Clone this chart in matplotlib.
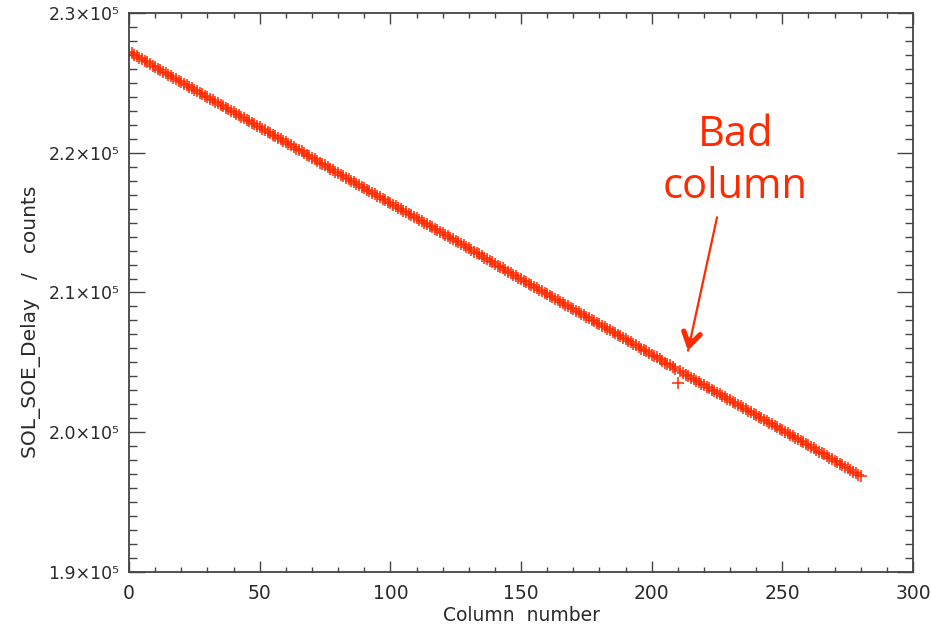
import numpy as np
from matplotlib import pyplot as plt
from matplotlib.ticker import MultipleLocator, FuncFormatter

# SOL_SOE_Delay counts per column (column index = position in list)
counts = [
    227240, 227110, 227020, 226890, 226810, 226680, 226590, 226460, 226370, 226240,
    226160, 226020, 225940, 225800, 225720, 225590, 225510, 225370, 225290, 225160,
    225070, 224940, 224860, 224720, 224640, 224500, 224420, 224290, 224210, 224070,
    223990, 223860, 223770, 223640, 223560, 223420, 223340, 223200, 223120, 222990,
    222900, 222770, 222690, 222550, 222470, 222340, 222250, 222120, 222040, 221900,
    221820, 221690, 221600, 221470, 221390, 221250, 221170, 221040, 220950, 220820,
    220740, 220600, 220520, 220390, 220300, 220170, 220090, 219950, 219870, 219740,
    219650, 219520, 219440, 219300, 219220, 219090, 219000, 218870, 218790, 218650,
    218570, 218440, 218350, 218220, 218130, 218000, 217920, 217790, 217700, 217570,
    217490, 217350, 217270, 217130, 217050, 216920, 216840, 216700, 216620, 216480,
    216400, 216270, 216190, 216050, 215970, 215830, 215750, 215620, 215530, 215400,
    215320, 215180, 215100, 214970, 214880, 214750, 214670, 214530, 214450, 214320,
    214230, 214100, 214020, 213880, 213800, 213670, 213580, 213450, 213370, 213230,
    213150, 213020, 212930, 212800, 212720, 212580, 212500, 212370, 212280, 212150,
    212070, 211930, 211850, 211720, 211630, 211500, 211410, 211280, 211200, 211070,
    210980, 210850, 210770, 210630, 210550, 210410, 210330, 210200, 210110, 209980,
    209900, 209760, 209680, 209550, 209460, 209330, 209250, 209110, 209030, 208900,
    208810, 208680, 208600, 208460, 208380, 208250, 208160, 208030, 207950, 207810,
    207730, 207600, 207510, 207380, 207300, 207160, 207080, 206950, 206860, 206730,
    206650, 206510, 206430, 206300, 206210, 206080, 205990, 205860, 205780, 205650,
    205560, 205430, 205350, 205210, 205130, 204990, 204910, 204780, 204690, 204560,
    203500, 204350, 204260, 204130, 204040, 203910, 203830, 203690, 203610, 203480,
    203390, 203260, 203180, 203040, 202960, 202830, 202740, 202610, 202530, 202390,
    202310, 202180, 202090, 201960, 201880, 201740, 201660, 201530, 201440, 201310,
    201220, 201090, 201010, 200880, 200790, 200660, 200570, 200440, 200360, 200230,
    200140, 200010, 199930, 199790, 199710, 199570, 199490, 199360, 199270, 199140,
    199060, 198920, 198840, 198710, 198620, 198490, 198410, 198270, 198190, 198060,
    197970, 197840, 197760, 197620, 197540, 197410, 197320, 197190, 197110, 196970,
    196880,
]
columns = np.arange(len(counts))

red = '#ff2a00'
axcol = '#444444'
txtcol = '#2a2a2a'

fig = plt.figure(figsize=(9.31, 6.28), dpi=100)
ax = fig.add_axes([0.1386, 0.0892, 0.8421, 0.8901])

ax.plot(columns, counts, linestyle='none', marker='+', color=red,
        markersize=9, markeredgewidth=1.1)

ax.set_xlim(0, 300)
ax.set_ylim(1.9e5, 2.3e5)

ax.xaxis.set_major_locator(MultipleLocator(50))
ax.xaxis.set_minor_locator(MultipleLocator(10))
ax.yaxis.set_major_locator(MultipleLocator(10000))
ax.yaxis.set_minor_locator(MultipleLocator(1000))

def sci(v, pos):
    return '%.1f\u00d710\u2075' % (v / 1e5)
ax.yaxis.set_major_formatter(FuncFormatter(sci))

ax.tick_params(which='both', direction='in', top=True, right=True,
               color=axcol, width=1.0, labelcolor=txtcol, labelsize=13.5)
ax.tick_params(axis='x', which='major', length=8, pad=9)
ax.tick_params(axis='x', which='minor', length=3.6)
ax.tick_params(axis='y', which='major', length=11.5, pad=7, labelsize=12.5)
ax.tick_params(axis='y', which='minor', length=6)
for s in ax.spines.values():
    s.set_color(axcol)
    s.set_linewidth(1.3)

ax.set_xlabel('Column  number', fontsize=13.5, color=txtcol, labelpad=2)
ax.set_ylabel('SOL_SOE_Delay   /   counts', fontsize=14.5, color=txtcol)
ax.yaxis.set_label_coords(-0.112, 0.447)

# annotation for the bad column
ax.text(232, 219400, 'Bad\ncolumn', color=red, fontsize=30, ha='center',
        va='center', linespacing=1.3, family='Open Sans')
ax.annotate('', xy=(213.9, 205840), xytext=(225.0, 215380),
            arrowprops=dict(arrowstyle='-', color=red, lw=1.6, shrinkA=0, shrinkB=0))
ax.annotate('', xy=(213.9, 205840), xytext=(214.8, 206600),
            arrowprops=dict(arrowstyle='->,head_length=0.95,head_width=0.6',
                            color=red, lw=3.8, shrinkA=0, shrinkB=0))

plt.savefig('out.png', dpi=100)
